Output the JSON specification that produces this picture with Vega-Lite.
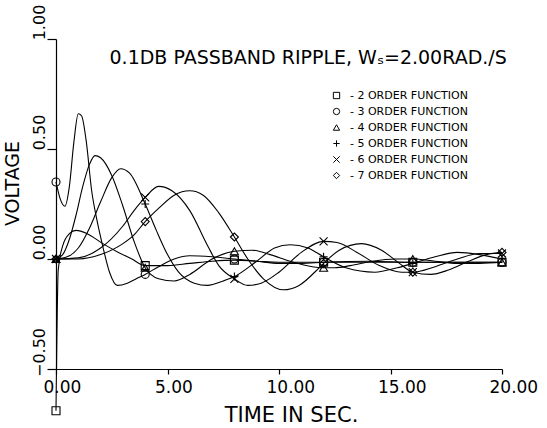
{
"$schema": "https://vega.github.io/schema/vega-lite/v6.json",
"width": 446, "height": 330,
"autosize": "none",
"padding": {"left": 56, "top": 39, "right": 45, "bottom": 59},
"background": "white",
"config": {
  "view": {"stroke": null},
  "font": "DejaVu Sans",
  "axis": {"grid": false, "domainColor": "black", "tickColor": "black", "labelColor": "black", "titleColor": "black", "labelFont": "DejaVu Sans", "titleFont": "DejaVu Sans", "titleFontWeight": "normal", "domainWidth": 1.2, "tickWidth": 1.2}
},
"datasets": {
 "notes": [{"label": "0.1DB PASSBAND RIPPLE, Wₛ=2.00RAD./S"}],
 "curves": [
  {"order":"2","t":0,"v":-0.69},{"order":"2","t":0.1,"v":-0.05},{"order":"2","t":0.3,"v":0.06},{"order":"2","t":0.6,"v":0.115},{"order":"2","t":0.9,"v":0.13},{"order":"2","t":1.4,"v":0.115},{"order":"2","t":2.1,"v":0.07},{"order":"2","t":2.8,"v":0.03},{"order":"2","t":3.4,"v":0.0},{"order":"2","t":4,"v":-0.03},{"order":"2","t":5,"v":-0.03},{"order":"2","t":6,"v":-0.02},{"order":"2","t":7,"v":-0.01},{"order":"2","t":8,"v":-0.005},{"order":"2","t":9,"v":-0.01},{"order":"2","t":10,"v":-0.015},{"order":"2","t":12,"v":-0.015},{"order":"2","t":14,"v":-0.015},{"order":"2","t":16,"v":-0.015},{"order":"2","t":18,"v":-0.015},{"order":"2","t":20,"v":-0.015},
  {"order":"3","t":0,"v":0.35},{"order":"3","t":0.2,"v":0.27},{"order":"3","t":0.4,"v":0.24},{"order":"3","t":0.6,"v":0.33},{"order":"3","t":0.8,"v":0.53},{"order":"3","t":1.0,"v":0.66},{"order":"3","t":1.15,"v":0.65},{"order":"3","t":1.35,"v":0.54},{"order":"3","t":1.6,"v":0.31},{"order":"3","t":1.85,"v":0.17},{"order":"3","t":2.07,"v":0.07},{"order":"3","t":2.4,"v":-0.06},{"order":"3","t":2.75,"v":-0.12},{"order":"3","t":3.2,"v":-0.11},{"order":"3","t":3.6,"v":-0.09},{"order":"3","t":4,"v":-0.07},{"order":"3","t":4.6,"v":-0.035},{"order":"3","t":5.3,"v":0.0},{"order":"3","t":6,"v":0.015},{"order":"3","t":7,"v":0.01},{"order":"3","t":8,"v":0.0},{"order":"3","t":9,"v":-0.01},{"order":"3","t":10,"v":-0.02},{"order":"3","t":11,"v":-0.02},{"order":"3","t":12,"v":-0.015},{"order":"3","t":14,"v":-0.01},{"order":"3","t":16,"v":-0.015},{"order":"3","t":18,"v":-0.015},{"order":"3","t":20,"v":-0.015},
  {"order":"4","t":0,"v":0.0},{"order":"4","t":0.3,"v":0.02},{"order":"4","t":0.6,"v":0.09},{"order":"4","t":0.9,"v":0.2},{"order":"4","t":1.2,"v":0.33},{"order":"4","t":1.5,"v":0.43},{"order":"4","t":1.75,"v":0.47},{"order":"4","t":2.0,"v":0.46},{"order":"4","t":2.5,"v":0.38},{"order":"4","t":3.0,"v":0.24},{"order":"4","t":3.5,"v":0.08},{"order":"4","t":4,"v":-0.04},{"order":"4","t":4.6,"v":-0.09},{"order":"4","t":5.3,"v":-0.1},{"order":"4","t":6,"v":-0.07},{"order":"4","t":7,"v":0.0},{"order":"4","t":8,"v":0.035},{"order":"4","t":8.8,"v":0.04},{"order":"4","t":9.6,"v":0.02},{"order":"4","t":10.5,"v":-0.01},{"order":"4","t":11.5,"v":-0.035},{"order":"4","t":12,"v":-0.04},{"order":"4","t":12.5,"v":-0.04},{"order":"4","t":13.2,"v":-0.03},{"order":"4","t":14.2,"v":-0.01},{"order":"4","t":15.2,"v":0.0},{"order":"4","t":16,"v":0.0},{"order":"4","t":17,"v":-0.01},{"order":"4","t":18,"v":-0.02},{"order":"4","t":19,"v":-0.02},{"order":"4","t":20,"v":-0.015},
  {"order":"5","t":0,"v":0.0},{"order":"5","t":0.5,"v":0.01},{"order":"5","t":1,"v":0.05},{"order":"5","t":1.5,"v":0.14},{"order":"5","t":2,"v":0.26},{"order":"5","t":2.5,"v":0.37},{"order":"5","t":2.9,"v":0.41},{"order":"5","t":3.3,"v":0.39},{"order":"5","t":4,"v":0.25},{"order":"5","t":4.5,"v":0.13},{"order":"5","t":5,"v":0.02},{"order":"5","t":5.5,"v":-0.06},{"order":"5","t":6.2,"v":-0.11},{"order":"5","t":6.8,"v":-0.12},{"order":"5","t":7.5,"v":-0.1},{"order":"5","t":8,"v":-0.08},{"order":"5","t":9,"v":-0.01},{"order":"5","t":9.8,"v":0.05},{"order":"5","t":10.5,"v":0.065},{"order":"5","t":11.3,"v":0.05},{"order":"5","t":12,"v":0.01},{"order":"5","t":13,"v":-0.04},{"order":"5","t":14.3,"v":-0.06},{"order":"5","t":15.3,"v":-0.04},{"order":"5","t":16,"v":-0.02},{"order":"5","t":17,"v":0.01},{"order":"5","t":18,"v":0.03},{"order":"5","t":19,"v":0.02},{"order":"5","t":20,"v":0.0},
  {"order":"6","t":0,"v":0.0},{"order":"6","t":1,"v":0.005},{"order":"6","t":2,"v":0.05},{"order":"6","t":3,"v":0.15},{"order":"6","t":3.5,"v":0.22},{"order":"6","t":4,"v":0.28},{"order":"6","t":4.6,"v":0.33},{"order":"6","t":5.2,"v":0.31},{"order":"6","t":6,"v":0.22},{"order":"6","t":6.8,"v":0.06},{"order":"6","t":7.3,"v":-0.03},{"order":"6","t":8,"v":-0.09},{"order":"6","t":8.6,"v":-0.12},{"order":"6","t":9.2,"v":-0.11},{"order":"6","t":10,"v":-0.06},{"order":"6","t":11,"v":0.03},{"order":"6","t":12,"v":0.08},{"order":"6","t":12.6,"v":0.075},{"order":"6","t":13.5,"v":0.03},{"order":"6","t":14.5,"v":-0.03},{"order":"6","t":15.5,"v":-0.06},{"order":"6","t":16,"v":-0.06},{"order":"6","t":17,"v":-0.035},{"order":"6","t":18,"v":0.0},{"order":"6","t":19,"v":0.025},{"order":"6","t":20,"v":0.025},
  {"order":"7","t":0,"v":0.0},{"order":"7","t":1,"v":0.0},{"order":"7","t":2,"v":0.02},{"order":"7","t":3,"v":0.07},{"order":"7","t":3.5,"v":0.11},{"order":"7","t":4,"v":0.17},{"order":"7","t":4.6,"v":0.23},{"order":"7","t":5.3,"v":0.29},{"order":"7","t":6,"v":0.31},{"order":"7","t":6.6,"v":0.29},{"order":"7","t":7.3,"v":0.21},{"order":"7","t":8,"v":0.1},{"order":"7","t":8.6,"v":0.0},{"order":"7","t":9.3,"v":-0.09},{"order":"7","t":10.2,"v":-0.14},{"order":"7","t":10.9,"v":-0.12},{"order":"7","t":11.8,"v":-0.04},{"order":"7","t":12,"v":-0.02},{"order":"7","t":12.7,"v":0.04},{"order":"7","t":13.7,"v":0.07},{"order":"7","t":14.6,"v":0.04},{"order":"7","t":15.4,"v":-0.02},{"order":"7","t":16,"v":-0.06},{"order":"7","t":16.8,"v":-0.07},{"order":"7","t":17.6,"v":-0.05},{"order":"7","t":18.5,"v":-0.01},{"order":"7","t":19.3,"v":0.02},{"order":"7","t":20,"v":0.03}
 ]
},
"layer": [
  {"data": {"name": "curves"},
   "mark": {"type": "line", "interpolate": "monotone", "strokeWidth": 1.1, "color": "black", "clip": false},
   "encoding": {
     "x": {"field": "t", "type": "quantitative", "scale": {"domain": [0, 20], "nice": false},
        "axis": {"values": [0, 5, 10, 15, 20], "format": ".2f", "labelFontSize": 17, "tickSize": 5, "labelAlign": "left", "labelOffset": -13, "labelBaseline": "top", "labelPadding": 5, "labelFlush": false, "labelOverlap": false, "title": "TIME IN SEC.", "titleFontSize": 21, "titleX": 235, "titleY": 46, "titleBaseline": "middle", "titleAnchor": null}},
     "y": {"field": "v", "type": "quantitative", "scale": {"domain": [-0.5, 1], "nice": false, "zero": false},
        "axis": {"values": [-0.5, 0, 0.5, 1], "format": ".2f", "labelAngle": -90, "labelFontSize": 16, "tickSize": 9, "labelPadding": 8, "labelAlign": "center", "labelBaseline": "middle", "labelOffset": -17, "labelFlush": false, "labelOverlap": false, "title": "VOLTAGE", "titleFontSize": 19, "titleAngle": -90, "titleX": -44, "titleY": 144, "titleBaseline": "middle"}},
     "detail": {"field": "order"}}},
  {"data": {"name": "curves"},
   "transform": [{"filter": "datum.t % 4 == 0"}],
   "mark": {"type": "point", "filled": false, "color": "black", "strokeWidth": 1.1, "size": 64, "opacity": 1},
   "encoding": {
     "x": {"field": "t", "type": "quantitative"},
     "y": {"field": "v", "type": "quantitative"},
     "shape": {"field": "order", "type": "nominal",
      "scale": {"domain": ["2","3","4","5","6","7"], "range": ["square","circle","triangle-up","M-1,0L1,0M0,-1L0,1","M-1,-1L1,1M-1,1L1,-1","diamond"]},
      "legend": {"orient": "none", "legendX": 275, "legendY": 51, "title": null, "labelExpr": "'-  ' + datum.label + ' ORDER FUNCTION'", "labelFontSize": 11, "labelColor": "black", "labelFont": "DejaVu Sans", "symbolSize": 40, "symbolStrokeWidth": 1, "symbolStrokeColor": "black", "rowPadding": 4, "labelOffset": 8, "padding": 0}}}},
  {"data": {"name": "notes"},
   "mark": {"type": "text", "align": "left", "baseline": "middle", "fontSize": 19, "font": "DejaVu Sans", "color": "black"},
   "encoding": {"x": {"datum": 2.4, "type": "quantitative"}, "y": {"datum": 0.915, "type": "quantitative"}, "text": {"field": "label", "type": "nominal"}}}
]
}
